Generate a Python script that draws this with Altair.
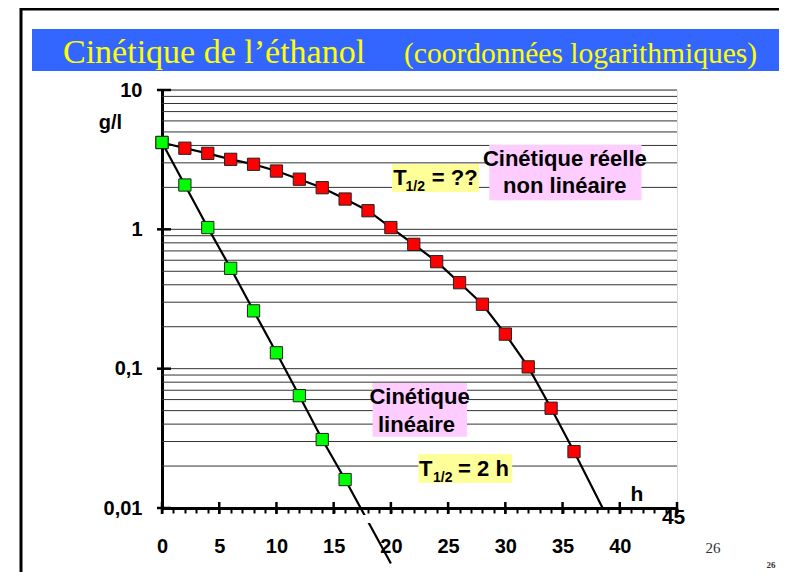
import altair as alt
import pandas as pd

# ---------------- data ----------------
hours = [0, 2, 4, 6, 8, 10, 12, 14, 16, 18, 20, 22, 24, 26, 28, 30, 32, 34, 36]
linear_conc = [4.2, 2.08, 1.03, 0.525, 0.26, 0.13, 0.064, 0.031, 0.016]
real_conc = [4.2, 3.82, 3.51, 3.18, 2.93, 2.62, 2.29, 1.99, 1.65, 1.36,
             1.03, 0.78, 0.586, 0.414, 0.29, 0.177, 0.103, 0.052, 0.0254]
linear_line_end = [20, 0.004]   # where the drawn straight line stops
real_line_end = [38.5, 0.01]

y_tick_values = [0.01, 0.1, 1, 10]
y_tick_labels = ["0,01", "0,1", "1", "10"]
x_major_values = [0, 5, 10, 15, 20, 25, 30, 35, 40, 45]
x_minor_values = list(range(0, 46))
grid_values = [0.02, 0.03, 0.04, 0.05, 0.06, 0.07, 0.08, 0.09, 0.1,
               0.2, 0.3, 0.4, 0.5, 0.6, 0.7, 0.8, 0.9, 1,
               2, 3, 4, 5, 6, 7, 8, 9, 10]

# annotation boxes (in data units: hours, g/l)
box_t1 = [20.1, 28.6, 18.4, 22.4]
box_t2 = [27.7, 41.9, 26.65, 30.6]
box_c1 = [1.85, 1.62, 0.0324, 0.0151]
box_c2 = [2.94, 4.03, 0.0789, 0.0244]
box_fill = ["#ffff99", "#ffccff", "#ffccff", "#ffff99"]

# annotation texts
center_text = ["Cinétique réelle", "non linéaire", "Cinétique", "linéaire"]
center_t = [35.2, 35.2, 22.5, 22.24]
center_c = [2.85, 1.82, 0.0558, 0.0353]

left_text = ["T", "= ??", "T", "= 2 h"]
left_t = [20.2, 23.57, 22.46, 25.87]
left_c = [2.08, 2.08, 0.01698, 0.01698]

sub_text = ["1/2", "1/2"]
sub_t = [21.28, 23.68]
sub_c = [1.88, 0.01537]

axis_note_text = ["h", "45"]
axis_note_t = [41.5, 44.7]
axis_note_c = [0.01122, 0.0077]

title_main = "Cinétique de l’éthanol"
title_sub = "(coordonnées logarithmiques)"
page_no = "26"

# ---------------- tables ----------------
W, H = 515, 418
SANS = "Liberation Sans"
SERIF = "Liberation Serif"

lines_df = pd.DataFrame({
    "t": hours[:len(linear_conc)] + [linear_line_end[0]] + hours + [real_line_end[0]],
    "c": linear_conc + [linear_line_end[1]] + real_conc + [real_line_end[1]],
    "series": ["lin"] * (len(linear_conc) + 1) + ["real"] * (len(real_conc) + 1),
})
points_df = pd.DataFrame({
    "t": hours + hours[:len(linear_conc)],
    "c": real_conc + linear_conc,
    "fill": ["#ff0000"] * len(real_conc) + ["#00ff00"] * len(linear_conc),
})
grid_df = pd.DataFrame({"v": grid_values})
yt_df = pd.DataFrame({"v": y_tick_values})
xt_df = pd.DataFrame({"t": x_major_values})
box_df = pd.DataFrame({"t1": box_t1, "t2": box_t2, "c1": box_c1, "c2": box_c2, "fill": box_fill})
ctext_df = pd.DataFrame({"t": center_t, "c": center_c, "txt": center_text})
ltext_df = pd.DataFrame({"t": left_t, "c": left_c, "txt": left_text})
stext_df = pd.DataFrame({"t": sub_t, "c": sub_c, "txt": sub_text})
ntext_df = pd.DataFrame({"t": axis_note_t, "c": axis_note_c, "txt": axis_note_text})
one = pd.DataFrame({"a": [0]})

xs = alt.Scale(domain=[0, 45], nice=False, zero=False)
ys = alt.Scale(type="log", domain=[0.01, 10], nice=False)

label_expr = " : ".join(
    f"datum.value == {v} ? '{l}'" for v, l in zip(y_tick_values, y_tick_labels)
) + " : ''"

y_axis = alt.Axis(
    values=y_tick_values, labelExpr=label_expr, ticks=False, tickSize=0,
    grid=False, domainColor="black", domainWidth=3,
    labelFont=SANS, labelFontSize=20, labelFontWeight="bold", labelColor="black",
    labelPadding=20, labelOverlap=False,
    title="g/l", titleAngle=0, titleX=-52, titleY=32, titleAlign="center",
    titleBaseline="middle", titleFont=SANS, titleFontSize=20,
    titleFontWeight="bold", titleColor="black",
)
x_axis = alt.Axis(
    values=x_minor_values,
    labelExpr="(datum.value % 5 == 0 && datum.value < 45) ? toString(datum.value) : ''",
    tickSize=5, tickWidth=2, tickColor="black", grid=False,
    domainColor="black", domainWidth=3,
    labelFont=SANS, labelFontSize=20, labelFontWeight="bold", labelColor="black",
    labelPadding=23, labelOverlap=False, labelFlush=False, title=None,
)

X = lambda f="t": alt.X(f"{f}:Q", scale=xs, axis=x_axis)
Y = lambda f="c": alt.Y(f"{f}:Q", scale=ys, axis=y_axis)

grid = alt.Chart(grid_df).mark_rule(color="#333333", strokeWidth=1).encode(
    y=Y("v")
)
yticks = alt.Chart(yt_df).mark_rule(color="black", strokeWidth=2.5).encode(
    y=Y("v"), x=alt.value(-5), x2=alt.value(9)
)
xticks = alt.Chart(xt_df).mark_rule(color="black", strokeWidth=2.5).encode(
    x=X("t"), y=alt.value(H - 6), y2=alt.value(H + 6)
)
boxes = alt.Chart(box_df).mark_rect().encode(
    x=X("t1"), x2="t2", y=Y("c1"), y2="c2",
    color=alt.Color("fill:N", scale=None),
)
lines = alt.Chart(lines_df).mark_line(color="black", strokeWidth=2.2).encode(
    x=X(), y=Y(), detail="series:N"
)
gap = alt.Chart(one).mark_rect(color="white").encode(
    x=alt.value(194), x2=alt.value(214), y=alt.value(425), y2=alt.value(433)
)
points = alt.Chart(points_df).mark_square(size=150, stroke="#222222", strokeWidth=1, opacity=1).encode(
    x=X(), y=Y(), color=alt.Color("fill:N", scale=None)
)
ctext = alt.Chart(ctext_df).mark_text(
    font=SANS, fontSize=22, fontWeight="bold", color="black", align="center", baseline="alphabetic"
).encode(x=X(), y=Y(), text="txt:N")
ltext = alt.Chart(ltext_df).mark_text(
    font=SANS, fontSize=22, fontWeight="bold", color="black", align="left", baseline="alphabetic"
).encode(x=X(), y=Y(), text="txt:N")
stext = alt.Chart(stext_df).mark_text(
    font=SANS, fontSize=14, fontWeight="bold", color="black", align="left", baseline="alphabetic"
).encode(x=X(), y=Y(), text="txt:N")
ntext = alt.Chart(ntext_df).mark_text(
    font=SANS, fontSize=21, fontWeight="bold", color="black", align="center", baseline="alphabetic"
).encode(x=X(), y=Y(), text="txt:N")

# page decorations (slide frame, title band, page numbers)
frame_left = alt.Chart(one).mark_rule(color="black", strokeWidth=3).encode(
    x=alt.value(-141), y=alt.value(-82), y2=alt.value(H + 64)
)
frame_top = alt.Chart(one).mark_rule(color="black", strokeWidth=3).encode(
    x=alt.value(-142), x2=alt.value(W + 102), y=alt.value(-81)
)
band = alt.Chart(one).mark_rect(color="#3366ff").encode(
    x=alt.value(-130), x2=alt.value(618), y=alt.value(-61), y2=alt.value(-19)
)
t1 = alt.Chart(one).mark_text(font=SERIF, fontSize=34, color="#ffff00", align="left",
                              baseline="alphabetic").encode(
    x=alt.value(-99), y=alt.value(-27), text=alt.value(title_main))
t2 = alt.Chart(one).mark_text(font=SERIF, fontSize=29.5, color="#ffff00", align="left",
                              baseline="alphabetic").encode(
    x=alt.value(242), y=alt.value(-27), text=alt.value(title_sub))
p1 = alt.Chart(one).mark_text(font=SERIF, fontSize=15, color="#333333", align="center",
                              baseline="alphabetic").encode(
    x=alt.value(551), y=alt.value(463), text=alt.value(page_no))
p2 = alt.Chart(one).mark_text(font=SERIF, fontSize=9, fontWeight="bold", color="#333333",
                              align="center", baseline="alphabetic").encode(
    x=alt.value(609), y=alt.value(478), text=alt.value(page_no))

chart = alt.layer(
    grid, yticks, xticks, boxes, lines, gap, points, ctext, ltext, stext, ntext,
    frame_left, frame_top, band, t1, t2, p1, p2,
).properties(
    width=W, height=H, autosize="none",
    padding={"left": 154, "top": 82, "right": 102, "bottom": 64},
).configure_view(stroke=None).configure(background="white")

chart.save("out.html", embed_options={"renderer": "svg", "actions": False})
